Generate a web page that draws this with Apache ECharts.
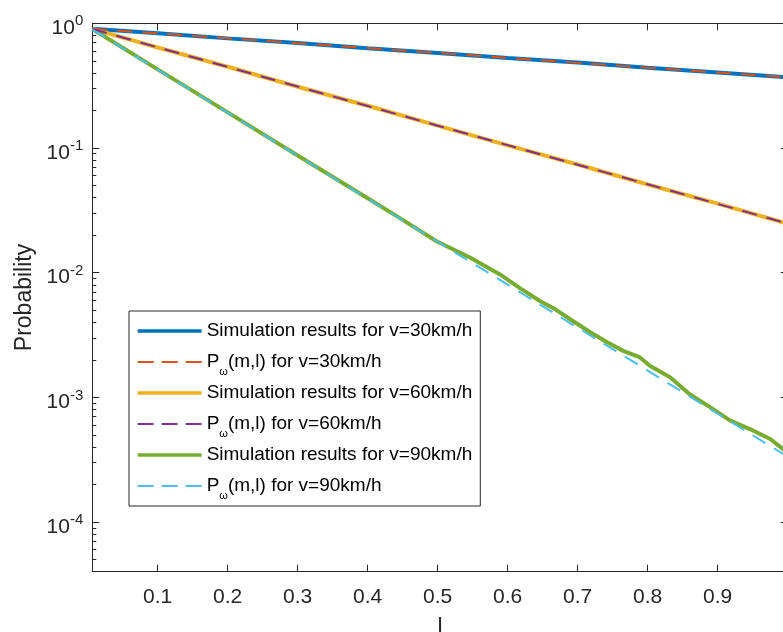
<!DOCTYPE html>
<html>
<head>
<meta charset="utf-8">
<script src="https://cdn.jsdelivr.net/npm/echarts@6/dist/echarts.min.js"></script>
<style>
html, body { margin: 0; padding: 0; background: #fff; }
#chart { width: 783px; height: 632px; }
</style>
</head>
<body>
<div id="chart"></div>
<script>
// l values shared by the smooth curves
var lValues = [0.0066, 0.1, 0.2, 0.3, 0.4, 0.5, 0.6, 0.7, 0.8, 0.9, 1.0];

var sim30 = [0.903, 0.831, 0.757, 0.694, 0.632, 0.579, 0.528, 0.484, 0.440, 0.404, 0.368];
var theory30 = [0.902, 0.830, 0.758, 0.693, 0.633, 0.578, 0.529, 0.483, 0.441, 0.403, 0.369];

var sim60 = [0.901, 0.640, 0.448, 0.310, 0.218, 0.151, 0.1050, 0.0737, 0.0510, 0.0358, 0.0247];
var theory60 = [0.900, 0.641, 0.447, 0.311, 0.217, 0.151, 0.1054, 0.0734, 0.0512, 0.0356, 0.0248];

var theory90 = [0.891, 0.425, 0.192, 0.0867, 0.0392, 0.0177, 0.00801, 0.00362, 0.00164, 0.000739, 0.000334];

// the 90 km/h simulation is noisier, so it gets its own l values
var lSim90 = [0.0066, 0.1, 0.2, 0.3, 0.4, 0.45, 0.499, 0.546, 0.589, 0.618, 0.646, 0.668, 0.693, 0.718,
    0.742, 0.765, 0.789, 0.803, 0.832, 0.860, 0.889, 0.918, 0.946, 0.975, 0.993, 1.0];
var sim90 = [0.900, 0.427, 0.193, 0.0870, 0.0395, 0.0265, 0.0178, 0.01324, 0.00969, 0.00749, 0.00593,
    0.00508, 0.00410, 0.00333, 0.00277, 0.00236, 0.00209, 0.00179, 0.00145, 0.00106, 0.000836,
    0.000650, 0.000557, 0.000464, 0.000386, 0.000350];

var xTicks = [0.1, 0.2, 0.3, 0.4, 0.5, 0.6, 0.7, 0.8, 0.9, 1.0];
var yTicks = [1e-4, 1e-3, 1e-2, 1e-1, 1];
var yMinorTicks = [5e-5, 6e-5, 7e-5, 8e-5, 9e-5,
    2e-4, 3e-4, 4e-4, 5e-4, 6e-4, 7e-4, 8e-4, 9e-4,
    2e-3, 3e-3, 4e-3, 5e-3, 6e-3, 7e-3, 8e-3, 9e-3,
    2e-2, 3e-2, 4e-2, 5e-2, 6e-2, 7e-2, 8e-2, 9e-2,
    0.2, 0.3, 0.4, 0.5, 0.6, 0.7, 0.8, 0.9];

function pairs(xs, ys) {
    return xs.map(function (x, i) { return [x, ys[i]]; });
}

var axisColor = '#262626';
var font = 'Liberation Sans';

function simLine(name, color, xs, ys) {
    return {
        name: name, type: 'line', data: pairs(xs, ys), showSymbol: false, symbol: 'none',
        lineStyle: { color: color, width: 4 }, itemStyle: { color: color }, z: 2
    };
}
function theoryLine(name, color, xs, ys) {
    return {
        name: name, type: 'line', data: pairs(xs, ys), showSymbol: false, symbol: 'none',
        lineStyle: { color: color, width: 2, type: [15, 10] }, itemStyle: { color: color }, z: 3
    };
}

function xAxisDef(pos, labels) {
    return {
        type: 'value', min: 0.0066, max: 1, position: pos,
        axisLine: { onZero: false, lineStyle: { color: axisColor, width: 1 } },
        axisTick: { inside: true, length: 7, customValues: xTicks, lineStyle: { color: axisColor } },
        axisLabel: {
            show: labels, customValues: xTicks, color: axisColor, fontSize: 21, fontFamily: font, margin: 15,
            formatter: function (v) { return String(Math.round(v * 10) / 10); }
        },
        splitLine: { show: false }
    };
}
function yAxisDef(pos, minor, labels) {
    return {
        type: 'log', min: 4e-5, max: 1, position: pos,
        axisLine: { show: !minor, onZero: false, lineStyle: { color: axisColor, width: 1 } },
        axisTick: {
            inside: true, length: minor ? 4 : 7, customValues: minor ? yMinorTicks : yTicks,
            lineStyle: { color: axisColor }
        },
        axisLabel: {
            show: labels, customValues: yTicks, color: axisColor, fontFamily: font, margin: 9,
            padding: [10, 0, 0, 0],
            formatter: function (v) { return '{b|10}{sup|' + Math.round(Math.log10(v)) + '}'; },
            rich: {
                b: { fontSize: 21, lineHeight: 21, fontFamily: font, color: axisColor, verticalAlign: 'bottom' },
                sup: { fontSize: 15, lineHeight: 15, fontFamily: font, color: axisColor, verticalAlign: 'bottom', padding: [6, 0, 10, 0] }
            }
        },
        splitLine: { show: false },
        minorTick: { show: false }
    };
}

var yLeft = yAxisDef('left', false, true);
yLeft.name = 'Probability';
yLeft.nameLocation = 'middle';
yLeft.nameGap = 55;
yLeft.nameTextStyle = { fontSize: 23, color: axisColor, fontFamily: font };

var xBottom = xAxisDef('bottom', true);
xBottom.name = 'l';
xBottom.nameLocation = 'middle';
xBottom.nameGap = 45;
xBottom.nameTextStyle = { fontSize: 23, color: axisColor, fontFamily: font };

var seriesList = [
    simLine('Simulation results for v=30km/h', '#0072BD', lValues, sim30),
    theoryLine('Pω(m,l) for v=30km/h', '#D95319', lValues, theory30),
    simLine('Simulation results for v=60km/h', '#EDB120', lValues, sim60),
    theoryLine('Pω(m,l) for v=60km/h', '#7E2F8E', lValues, theory60),
    simLine('Simulation results for v=90km/h', '#77AC30', lSim90, sim90),
    theoryLine('Pω(m,l) for v=90km/h', '#4DBEEE', lValues, theory90)
];

var legendData = seriesList.map(function (s) {
    var dashed = s.name.indexOf('Pω') === 0;
    return {
        name: s.name,
        lineStyle: dashed ? { width: 2, type: [16, 8] } : { width: 3.3, type: 'solid' }
    };
});

var chart = echarts.init(document.getElementById('chart'));
var option = {
    animation: false,
    backgroundColor: '#fff',
    grid: { left: 92.3, top: 23.3, width: 695.4, height: 548.4, containLabel: false, outerBoundsMode: 'none' },
    xAxis: [xBottom, xAxisDef('top', false)],
    yAxis: [yLeft, yAxisDef('left', true, false), yAxisDef('right', false, false), yAxisDef('right', true, false)],
    legend: {
        data: legendData,
        orient: 'vertical', left: 129, top: 311,
        padding: [10.5, 5, 4.5, 7], itemGap: 6, itemWidth: 64, itemHeight: 14,
        borderColor: axisColor, borderWidth: 1, backgroundColor: '#fff',
        itemStyle: { opacity: 0 },
        formatter: function (name) {
            if (name.indexOf('Pω') === 0) {
                return '{a|P}{sub|ω}{a|' + name.slice(2) + '}';
            }
            return '{a|' + name + '}{sub| }';
        },
        textStyle: {
            fontSize: 19, color: '#000', fontFamily: font,
            rich: {
                a: { fontSize: 19, lineHeight: 19, fontFamily: font, color: '#000', verticalAlign: 'middle' },
                sub: { fontSize: 11, lineHeight: 11, fontFamily: font, color: '#000', verticalAlign: 'top', padding: [14, 0, 0, 0] }
            }
        }
    },
    series: seriesList
};
chart.setOption(option);
</script>
</body>
</html>
